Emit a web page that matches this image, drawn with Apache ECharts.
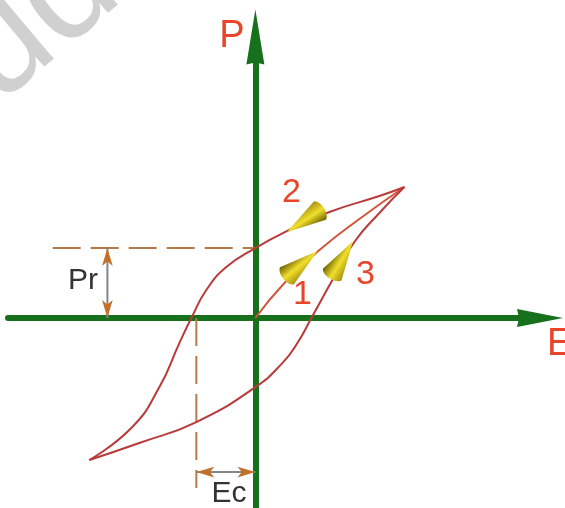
<!DOCTYPE html>
<html>
<head>
<meta charset="utf-8">
<script src="https://cdn.jsdelivr.net/npm/echarts@6/dist/echarts.min.js"></script>
<style>
  html, body { margin: 0; padding: 0; background: #fff; }
  #loop { width: 565px; height: 508px; }
</style>
</head>
<body>
<div id="loop"></div>
<script>
// hysteresis loop, E (field) against P (polarisation)
// units: the tip of the loop sits at E = 10, P = 10
var initialE = [0, 1.95, 4.30, 6.98, 10];
var initialP = [0, 2.67, 5.19, 7.56, 10];
var upperE = [10, 8.32, 4.97, 2.28, 0, -1.95, -3.29, -4.23, -5.10, -6.44, -8.26, -11.14];
var upperP = [10, 9.31, 8.09, 6.72, 5.34, 3.89, 2.14, 0.15, -1.91, -5.27, -8.32, -10.84];
var lowerE = [-11.14, -7.79, -3.96, 0, 1.81, 2.82, 3.76, 5.17, 6.64, 8.32, 10];
var lowerP = [-10.84, -9.54, -7.94, -5.27, -3.44, -1.91, 0, 2.90, 5.80, 8.02, 10];
var Pr = 5.34;   // remanent polarisation
var Ec = -3.96;  // coercive field

// direction cones on the branches
var coneNames = ['1', '2', '3'];
var coneE = [3.02, 3.36, 5.77];
var coneP = [4.05, 7.48, 4.43];
var coneAngle = [-51, 123, -32];

// where the guide lines and the Pr / Ec markers go
var prDashFrom = -13.6;
var ecDashTo = -12.98;
var prArrowE = -9.93;
var ecArrowP = -11.76;

var coneLabelOffset = [[2, 30], [-14, -27], [24, 15]];

function pairs(xs, ys) {
  return xs.map(function (x, i) { return [x, ys[i]]; });
}

var axisGreen = '#17701c';
var loopRed = '#b83a3a';
var labelRed = '#e8452a';
var guideBrown = '#b67a48';
var font = '"Liberation Sans", Arial, sans-serif';

var myChart = echarts.init(document.getElementById('loop'));

var option = {
  animation: false,
  grid: { left: 8, right: 25, top: 37, bottom: 0 },
  xAxis: {
    type: 'value', min: -16.6, max: 19.1,
    axisLine: {
      onZero: true,
      symbol: ['none', 'path://M9,0 L18,46 L9,44 L0,46 Z'],
      symbolSize: [18, 46],
      lineStyle: { color: axisGreen, width: 6 }
    },
    axisTick: { show: false }, axisLabel: { show: false }, splitLine: { show: false }
  },
  yAxis: {
    type: 'value', min: -14.5, max: 21.45,
    axisLine: {
      onZero: true,
      symbol: ['none', 'path://M9,0 L18,55 L9,53 L0,55 Z'],
      symbolSize: [18, 55],
      lineStyle: { color: axisGreen, width: 6 }
    },
    axisTick: { show: false }, axisLabel: { show: false }, splitLine: { show: false }
  },
  graphic: [
    // faint watermark in the corner
    {
      type: 'text', x: -29, y: 74, rotation: 0.7, silent: true, z: -10,
      style: { text: 'udocu', font: '150px ' + font, fill: '#d0d0d0', align: 'left', verticalAlign: 'middle' }
    },
    { type: 'text', x: 232, y: 37, style: { text: 'P', font: '38px ' + font, fill: labelRed, align: 'center', verticalAlign: 'middle' } },
    { type: 'text', x: 547, y: 345, style: { text: 'E', font: '38px ' + font, fill: labelRed, align: 'left', verticalAlign: 'middle' } },
    { type: 'text', x: 83, y: 281, style: { text: 'Pr', font: '30px ' + font, fill: '#333', align: 'center', verticalAlign: 'middle' } },
    { type: 'text', x: 229, y: 494, style: { text: 'Ec', font: '30px ' + font, fill: '#333', align: 'center', verticalAlign: 'middle' } }
  ],
  series: [
    {
      name: 'Pr guide', type: 'line', data: pairs([prDashFrom, 0], [Pr, Pr]),
      symbol: 'none', silent: true,
      lineStyle: { color: guideBrown, width: 2, type: [28, 10] }
    },
    {
      name: 'Ec guide', type: 'line', data: pairs([Ec, Ec], [0, ecDashTo]),
      symbol: 'none', silent: true,
      lineStyle: { color: guideBrown, width: 2, type: [28, 10] }
    },
    {
      name: 'Pr marker', type: 'line', data: pairs([prArrowE, prArrowE], [0, Pr]),
      symbol: 'none', silent: true, z: 3,
      lineStyle: { color: '#858585', width: 2 },
      markLine: {
        silent: true, symbol: ['arrow', 'arrow'], symbolSize: [8, 18],
        label: { show: false },
        lineStyle: { color: '#c3702a', width: 0, type: 'solid' },
        data: [[{ coord: [prArrowE, 0] }, { coord: [prArrowE, Pr] }]]
      }
    },
    {
      name: 'Ec marker', type: 'line', data: pairs([Ec, 0], [ecArrowP, ecArrowP]),
      symbol: 'none', silent: true, z: 3,
      lineStyle: { color: '#858585', width: 2 },
      markLine: {
        silent: true, symbol: ['arrow', 'arrow'], symbolSize: [8, 18],
        label: { show: false },
        lineStyle: { color: '#c3702a', width: 0, type: 'solid' },
        data: [[{ coord: [Ec, ecArrowP] }, { coord: [0, ecArrowP] }]]
      }
    },
    {
      name: 'initial', type: 'line', data: pairs(initialE, initialP),
      smooth: 0.5, symbol: 'none', z: 4,
      lineStyle: { color: '#d0553a', width: 2 }
    },
    {
      name: 'upper', type: 'line', data: pairs(upperE, upperP),
      smooth: 0.5, symbol: 'none', z: 4,
      lineStyle: { color: loopRed, width: 2 }
    },
    {
      name: 'lower', type: 'line', data: pairs(lowerE, lowerP),
      smooth: 0.5, symbol: 'none', z: 4,
      lineStyle: { color: loopRed, width: 2 }
    },
    {
      name: 'direction', type: 'scatter', z: 6,
      symbol: 'path://M10,0 L20,38 C17,44 3,44 0,38 Z',
      symbolSize: [22, 44],
      itemStyle: {
        opacity: 1,
        color: new echarts.graphic.LinearGradient(0, 0, 1, 0, [
          { offset: 0, color: '#6e6000' },
          { offset: 0.5, color: '#f0df2c' },
          { offset: 1, color: '#a89010' }
        ])
      },
      label: {
        show: true, position: 'inside', color: labelRed,
        fontSize: 34, fontFamily: font,
        formatter: function (p) { return p.name; }
      },
      data: coneNames.map(function (n, i) {
        return {
          name: n,
          value: [coneE[i], coneP[i]],
          symbolRotate: coneAngle[i],
          label: { offset: coneLabelOffset[i] }
        };
      })
    }
  ]
};

myChart.setOption(option);
window.addEventListener('resize', function () { myChart.resize(); });
</script>
</body>
</html>
